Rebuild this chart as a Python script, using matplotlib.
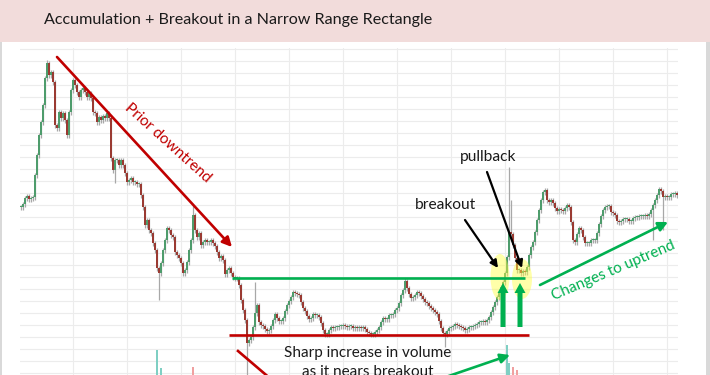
import numpy as np
import matplotlib.pyplot as plt
from matplotlib.patches import Ellipse, FancyArrow, Rectangle

# daily closes (arbitrary price units)
close = [168, 171, 177, 179, 176, 177, 178, 200, 220, 240, 253, 270, 297, 312, 300, 303, 293, 250, 247, 263,
         257, 262, 255, 240, 263, 285, 295, 290, 283, 278, 285, 287, 283, 278, 282, 277, 263, 262, 253, 258,
         255, 259, 257, 262, 257, 217, 205, 215, 215, 210, 215, 210, 202, 193, 195, 197, 193, 193, 191, 191,
         180, 168, 150, 155, 145, 142, 132, 125, 107, 102, 112, 125, 135, 147, 145, 140, 138, 123, 120, 117,
         112, 102, 105, 113, 125, 135, 160, 145, 138, 142, 130, 133, 135, 133, 133, 135, 132, 129, 123, 117,
         119, 115, 101, 105, 107, 102, 98, 97, 97, 90, 75, 65, 55, 32, 35, 38, 48, 62, 70, 53,
         50, 49, 46, 44, 45, 49, 55, 61, 57, 54, 54, 57, 64, 70, 74, 78, 83, 82, 81, 80,
         73, 67, 64, 59, 56, 57, 61, 60, 60, 58, 52, 45, 41, 41, 45, 48, 47, 48, 48, 49,
         49, 50, 49, 48, 49, 49, 47, 48, 47, 48, 47, 48, 46, 43, 42, 41, 41, 43, 45, 48,
         53, 57, 56, 56, 60, 60, 61, 65, 67, 72, 80, 85, 94, 87, 81, 77, 78, 80, 83, 82,
         79, 76, 73, 72, 69, 67, 65, 63, 61, 54, 47, 42, 41, 44, 47, 48, 49, 51, 50, 49,
         48, 47, 45, 46, 48, 48, 49, 50, 51, 53, 53, 54, 53, 55, 58, 63, 68, 73, 78, 83,
         88, 93, 102, 118, 143, 141, 130, 117, 105, 105, 102, 104, 103, 108, 120, 128, 133, 143, 155, 165,
         175, 183, 185, 175, 173, 175, 172, 167, 164, 166, 165, 164, 167, 170, 168, 153, 135, 133, 141, 147,
         145, 138, 132, 132, 132, 135, 135, 135, 142, 151, 159, 165, 168, 169, 169, 163, 162, 160, 154, 153,
         154, 156, 156, 156, 154, 154, 157, 158, 158, 159, 159, 159, 160, 159, 161, 165, 170, 175, 180, 186,
         184, 178, 179, 178, 178, 181, 181, 182, 180]

# long wicks (candle index, extreme price)
spike_idx = [13, 47, 69, 86, 113, 117, 192, 212, 244, 245, 316, 321]
spike_val = [315, 192, 75, 169, -10, 93, 97, 28, 208, 175, 135, 145]

# volume bars visible at the bottom edge
vol_idx = [68, 70, 86, 243, 244, 246, 248]
vol_val = [25, 7, 8, 30, 12, 8, 5]
vol_up = [True, True, False, True, True, False, False]

W, H = 710, 375
RED = '#c00000'
GREEN = '#00b050'

plt.rcParams['font.family'] = ['Lato', 'DejaVu Sans']

fig = plt.figure(figsize=(W / 100, H / 100), dpi=100)

# price panel
ax = fig.add_axes([20 / W, 0, 658 / W, 327 / H])
n = len(close)
idx = np.arange(n)
c = np.array(close, dtype=float)
o = np.r_[c[0], c[:-1]]
hi = np.maximum(o, c) + 2.5
lo = np.minimum(o, c) - 2.5
for i, v in zip(spike_idx, spike_val):
    if v > hi[i]:
        hi[i] = v
    else:
        lo[i] = v
up = c >= o
ax.vlines(idx, lo, hi, color='#a8a8a8', lw=0.9, zorder=2)
body_h = np.maximum(np.abs(c - o), 1.2)
ax.bar(idx, body_h, bottom=np.minimum(o, c), width=0.85,
       color=np.where(up, '#4e9c6c', '#9a3a32'), zorder=3)
ax.bar(vol_idx, vol_val, bottom=0, width=0.6,
       color=['#7fcfc3' if u else '#f0a0a0' for u in vol_up], zorder=2)

ax.set_xlim(-0.5, n - 0.5)
ax.set_ylim(0, 327)
ax.set_xticks(np.arange(26, n, 27))
ax.set_yticks(np.arange(2, 327, 12))
ax.grid(True, color='#ececec', lw=0.8, zorder=0)
ax.tick_params(length=0, labelbottom=False, labelleft=False)
for s in ax.spines.values():
    s.set_visible(False)

# overlay in pixel coordinates for slide decorations
ov = fig.add_axes([0, 0, 1, 1], zorder=5)
ov.set_xlim(0, W)
ov.set_ylim(H, 0)
ov.axis('off')
ov.patch.set_alpha(0)

ov.add_patch(Rectangle((0, 0), W, 42, color='#f2dcdb', lw=0))
ov.add_patch(Rectangle((0, 42), 2, H - 42, color='#d9d9d9', lw=0))
ov.add_patch(Rectangle((706, 42), 4, H - 42, color='#d9d9d9', lw=0))
ov.text(44, 20, 'Accumulation + Breakout in a Narrow Range Rectangle',
        fontsize=11.6, color='#1a1a1a', va='center', ha='left')

# rectangle boundaries
ov.plot([232, 525], [278, 278], color=GREEN, lw=1.9, solid_capstyle='butt')
ov.plot([229, 529], [335, 335], color=RED, lw=1.9, solid_capstyle='butt')

def arrow(p0, p1, color, lw=1.9, ms=14):
    ov.annotate('', xy=p1, xytext=p0,
                arrowprops=dict(arrowstyle='-|>', color=color, lw=lw,
                                mutation_scale=ms, shrinkA=0, shrinkB=0))

arrow((57, 57), (232, 247), RED)
ov.plot([238, 272], [351, 380], color=RED, lw=1.9)
ov.text(168, 143, 'Prior downtrend', color=RED, fontsize=11, rotation=-42,
        ha='center', va='center')

# breakout markers
ov.add_patch(Ellipse((500, 277), 19, 46, color='#ffff40', alpha=0.45, lw=0))
ov.add_patch(Ellipse((522, 279), 20, 40, color='#ffff40', alpha=0.45, lw=0))
arrow((465, 220), (498, 268), 'black', lw=1.6, ms=11)
arrow((487, 172), (522, 268), 'black', lw=1.6, ms=11)
ov.text(445, 205, 'breakout', fontsize=11.2, color='#1a1a1a', ha='center', va='center')
ov.text(488, 157, 'pullback', fontsize=11.2, color='#1a1a1a', ha='center', va='center')
for x in (503, 520):
    ov.add_patch(FancyArrow(x, 327, 0, -44, width=5, head_width=11, head_length=10,
                            length_includes_head=True, color=GREEN, lw=0))

# uptrend
arrow((540, 285), (668, 222), GREEN)
ov.text(613, 271, 'Changes to uptrend', color=GREEN, fontsize=11, rotation=23,
        ha='center', va='center')

# volume note (second line runs off the slide bottom, as in the source)
ov.text(368, 353, 'Sharp increase in volume', fontsize=11, color='#1a1a1a',
        ha='center', va='center')
ov.text(368, 372, 'as it nears breakout', fontsize=11, color='#1a1a1a',
        ha='center', va='center')
arrow((440, 379), (510, 355), GREEN)

fig.savefig('out.png', dpi=100)
